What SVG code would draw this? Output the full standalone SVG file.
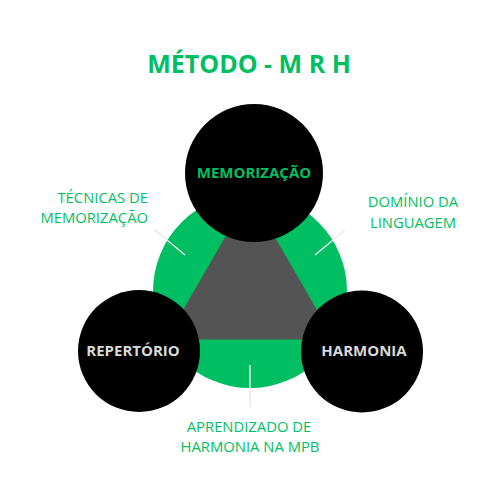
<svg xmlns="http://www.w3.org/2000/svg" width="500" height="500" viewBox="0 0 500 500">
<style>
.lbl{font-family:"Open Sans","Noto Sans",sans-serif;font-size:14.8px;fill:#00bf63;}
.node{font-family:"Open Sans","Noto Sans",sans-serif;font-size:15px;font-weight:bold;}
.tick{stroke:#e9e9e9;stroke-width:1.5;}
</style>
<rect width="500" height="500" fill="#ffffff"/>
<text x="249" y="73" text-anchor="middle" font-family="'Open Sans','Noto Sans',sans-serif" font-size="25" font-weight="bold" fill="#00bf63">MÉTODO - M R H</text>
<g id="ring">
<circle cx="250" cy="291" r="97" fill="#00bf63"/>
<polygon points="250,194 166,339.5 334,339.5" fill="#545454"/>
</g>
<g id="connectors">
<line class="tick" x1="155" y1="230" x2="185" y2="255"/>
<line class="tick" x1="345" y1="230" x2="315" y2="255"/>
<line class="tick" x1="250" y1="365" x2="250" y2="407"/>
</g>
<g id="memorizacao">
<circle cx="254" cy="173" r="69" fill="#000000"/>
<text class="node" x="254" y="178" text-anchor="middle" fill="#00bf63">MEMORIZAÇÃO</text>
</g>
<g id="repertorio">
<circle cx="139" cy="351" r="61" fill="#000000"/>
<text class="node" x="133" y="356" text-anchor="middle" fill="#d9d9d9">REPERTÓRIO</text>
</g>
<g id="harmonia">
<circle cx="362" cy="351.5" r="61" fill="#000000"/>
<text class="node" x="364" y="356" text-anchor="middle" fill="#d9d9d9">HARMONIA</text>
</g>
<g id="label-tecnicas">
<text class="lbl" x="148" y="203" text-anchor="end">TÉCNICAS DE</text>
<text class="lbl" x="148" y="223" text-anchor="end">MEMORIZAÇÃO</text>
</g>
<g id="label-dominio">
<text class="lbl" x="413" y="207" text-anchor="middle">DOMÍNIO DA</text>
<text class="lbl" x="413" y="228" text-anchor="middle">LINGUAGEM</text>
</g>
<g id="label-aprendizado">
<text class="lbl" x="249" y="432" text-anchor="middle">APRENDIZADO DE</text>
<text class="lbl" x="250" y="452" text-anchor="middle">HARMONIA NA MPB</text>
</g>
</svg>
